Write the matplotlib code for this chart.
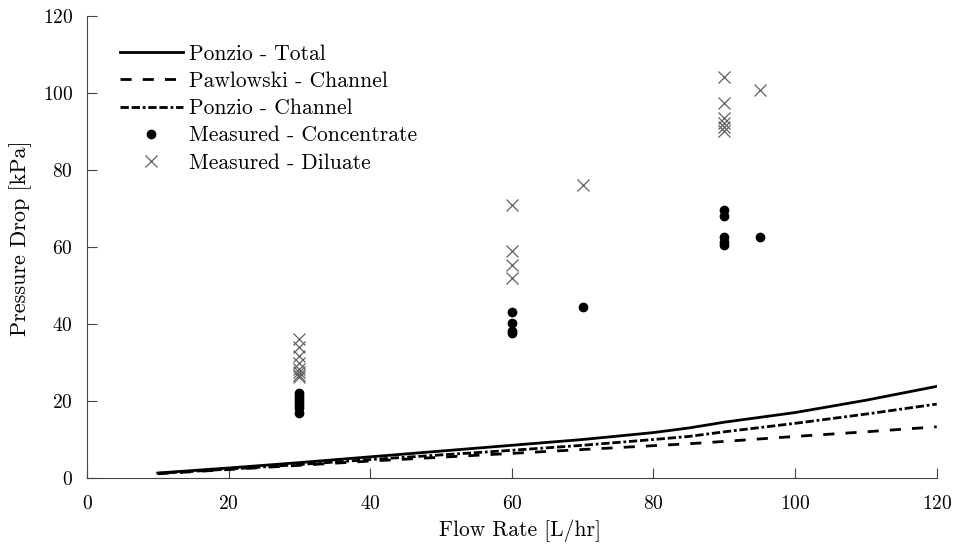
import matplotlib
matplotlib.use("Agg")
import matplotlib.pyplot as plt
import numpy as np

plt.rcParams["font.family"] = ["cmr10", "DejaVu Serif"]
plt.rcParams["mathtext.fontset"] = "cm"
plt.rcParams["axes.formatter.use_mathtext"] = True

# model curves (flow rate in L/hr, pressure drop in kPa)
flow_model = [10, 20, 30, 40, 50, 60, 70, 80, 85, 90, 100, 110, 120]
ponzio_total = [1.3, 2.6, 4.0, 5.5, 7.0, 8.5, 10.0, 11.8, 13.0, 14.5, 17.0, 20.2, 23.8]
pawlowski_channel = [1.1, 2.2, 3.3, 4.4, 5.4, 6.4, 7.4, 8.4, 8.9, 9.5, 10.8, 12.0, 13.3]
ponzio_channel = [1.2, 2.3, 3.5, 4.8, 6.0, 7.2, 8.5, 10.0, 10.8, 12.0, 14.2, 16.6, 19.2]

# measured data
conc_flow = [30, 30, 30, 30, 30, 30, 30,
             60, 60, 60, 60,
             70,
             90, 90, 90, 90, 90,
             95]
conc_dp = [22.0, 21.2, 20.5, 19.8, 19.0, 18.2, 16.8,
           43.0, 40.2, 38.3, 37.6,
           44.5,
           69.6, 68.1, 62.7, 61.4, 60.4,
           62.6]

dil_flow = [30, 30, 30, 30, 30, 30, 30, 30,
            60, 60, 60, 60,
            70,
            90, 90, 90, 90, 90, 90,
            95]
dil_dp = [36.2, 34.0, 31.8, 29.8, 28.3, 27.5, 26.8, 26.2,
          71.0, 59.0, 55.4, 52.0,
          76.2,
          104.2, 97.3, 93.4, 92.2, 91.1, 90.2,
          100.7]

fig = plt.figure(figsize=(9.58, 5.44), dpi=100)
ax = fig.add_axes([0.0908, 0.1213, 0.887, 0.8493])

ax.plot(flow_model, ponzio_total, color="black", lw=2.0, label="Ponzio - Total")
ax.plot(flow_model, pawlowski_channel, color="black", lw=2.0,
        linestyle=(0, (4, 4)), label="Pawlowski - Channel")
ax.plot(flow_model, ponzio_channel, color="black", lw=2.0,
        linestyle=(0, (3, 1, 3, 1, 1, 1)), label="Ponzio - Channel")
ax.plot(conc_flow, conc_dp, "o", color="black", ms=6, label="Measured - Concentrate")
ax.plot(dil_flow, dil_dp, "x", color="#606060", ms=9, mew=0.9, label="Measured - Diluate")

ax.set_xlim(0, 120)
ax.set_ylim(0, 120)
ax.set_xticks(np.arange(0, 121, 20))
ax.set_yticks(np.arange(0, 121, 20))
ax.spines["top"].set_visible(False)
ax.spines["right"].set_visible(False)
ax.spines["left"].set_color("#444444")
ax.spines["bottom"].set_color("#444444")
ax.tick_params(direction="in", length=7, labelsize=14, color="#444444")
ax.tick_params(axis="x", pad=12)
ax.tick_params(axis="y", pad=10)

ax.set_xlabel("Flow Rate [L/hr]", fontsize=15.5)
ax.xaxis.set_label_coords(0.509, -0.089)
ax.set_ylabel("Pressure Drop [kPa]", fontsize=16)
ax.yaxis.set_label_coords(-0.065, 0.52)

ax.legend(loc="upper left", frameon=False, fontsize=15.5, handlelength=2.9,
          handletextpad=0.3, labelspacing=0.36, borderaxespad=0.0,
          bbox_to_anchor=(0.029, 0.958))

fig.savefig("out.png", dpi=100)
